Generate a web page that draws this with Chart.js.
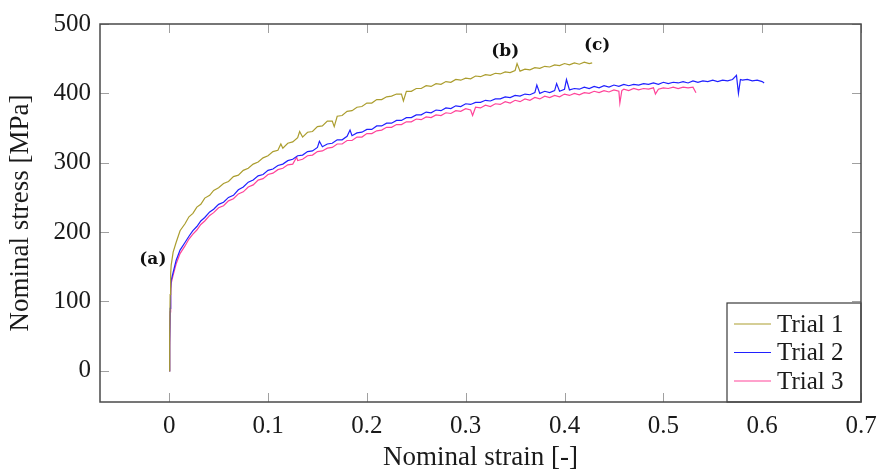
<!DOCTYPE html>
<html>
<head>
<meta charset="utf-8">
<script src="https://cdn.jsdelivr.net/npm/chart.js@4.4.1/dist/chart.umd.min.js"></script>
<style>
  html, body { margin: 0; padding: 0; background: #fff; }
</style>
</head>
<body>
<canvas id="chart" width="878" height="472"></canvas>
<script>
// series: [strain, stress in MPa]
const trialLabels = ['Trial 1', 'Trial 2', 'Trial 3'];
const trialColors = ['#ab9d2e', '#2020ff', '#ff4499'];

const trial1 = [[0,0],[0.0005,50],[0.001,110],[0.0015,140],[0.002,152],[0.004,171],[0.007,185],[0.011,202],[0.016,212],[0.02,222],
  [0.024,227],[0.028,236],[0.032,240],[0.036,249],[0.041,253],[0.045,260],[0.05,264],[0.055,270],[0.06,273],[0.065,280],
  [0.07,282],[0.075,289],[0.08,292],[0.085,298],[0.09,301],[0.095,307],[0.1,310],[0.105,316],[0.11,318],[0.113,327],
  [0.115,321],[0.12,328],[0.125,330],[0.13,336],[0.132,345],[0.135,337],[0.14,344],[0.145,345],[0.15,352],[0.155,353],
  [0.16,360],[0.165,360],[0.167,352],[0.17,367],[0.175,368],[0.18,374],[0.185,375],[0.19,380],[0.195,381],[0.2,386],
  [0.205,386],[0.21,391],[0.215,391],[0.22,395],[0.225,396],[0.23,399],[0.235,399],[0.237,389],[0.24,403],[0.245,403],
  [0.25,407],[0.255,407],[0.26,411],[0.265,410],[0.27,414],[0.275,413],[0.28,417],[0.285,416],[0.29,420],[0.295,419],
  [0.3,422],[0.305,421],[0.31,425],[0.315,424],[0.32,427],[0.325,426],[0.33,429],[0.335,428],[0.34,431],[0.345,430],
  [0.35,433],[0.352,443],[0.355,432],[0.36,435],[0.365,434],[0.37,437],[0.375,436],[0.38,439],[0.385,438],[0.39,441],
  [0.395,440],[0.4,443],[0.405,441],[0.41,444],[0.415,442],[0.42,445],[0.425,443],[0.428,444]];

const trial2 = [[0,0],[0.0005,40],[0.001,90],[0.0015,118],[0.002,130],[0.004,142],[0.007,159],[0.011,174],[0.016,185],[0.02,194],
  [0.024,202],[0.028,208],[0.032,216],[0.036,221],[0.041,229],[0.045,233],[0.05,240],[0.055,243],[0.06,250],[0.065,253],
  [0.07,261],[0.075,265],[0.08,272],[0.085,275],[0.09,281],[0.095,283],[0.1,289],[0.105,291],[0.11,296],[0.115,298],
  [0.12,303],[0.125,305],[0.13,310],[0.135,311],[0.14,316],[0.145,317],[0.15,322],[0.152,331],[0.155,323],[0.16,327],
  [0.165,328],[0.17,333],[0.175,333],[0.18,338],[0.183,347],[0.185,339],[0.19,343],[0.195,344],[0.2,348],[0.205,348],
  [0.21,353],[0.215,353],[0.22,357],[0.225,357],[0.23,361],[0.235,361],[0.24,365],[0.245,365],[0.25,369],[0.255,369],
  [0.26,373],[0.265,372],[0.27,376],[0.275,375],[0.28,379],[0.285,378],[0.29,382],[0.295,381],[0.3,385],[0.305,384],
  [0.31,387],[0.315,387],[0.32,390],[0.325,389],[0.33,392],[0.335,392],[0.34,395],[0.345,394],[0.35,397],[0.355,396],
  [0.36,399],[0.365,398],[0.37,401],[0.372,412],[0.375,400],[0.38,403],[0.385,401],[0.39,404],[0.392,414],[0.395,403],
  [0.4,406],[0.402,420],[0.405,405],[0.41,407],[0.415,406],[0.42,409],[0.425,407],[0.43,410],[0.435,408],[0.44,411],
  [0.445,409],[0.45,412],[0.455,410],[0.46,413],[0.465,411],[0.47,413],[0.475,412],[0.48,414],[0.485,413],[0.49,415],
  [0.495,413],[0.5,416],[0.505,414],[0.51,416],[0.515,415],[0.52,417],[0.525,415],[0.53,418],[0.535,416],[0.54,418],
  [0.545,417],[0.55,419],[0.555,417],[0.56,419],[0.565,418],[0.57,420],[0.574,426],[0.576,400],[0.578,420],[0.58,419],
  [0.585,420],[0.59,418],[0.595,419],[0.6,417],[0.602,415]];

const trial3 = [[0,0],[0.0005,35],[0.001,85],[0.0015,112],[0.002,126],[0.004,138],[0.007,154],[0.011,169],[0.016,180],[0.02,190],
  [0.024,197],[0.028,203],[0.032,211],[0.036,216],[0.041,224],[0.045,228],[0.05,235],[0.055,238],[0.06,245],[0.065,248],
  [0.07,255],[0.075,258],[0.08,265],[0.085,268],[0.09,275],[0.095,277],[0.1,283],[0.105,285],[0.11,290],[0.115,292],
  [0.12,297],[0.125,298],[0.129,308],[0.13,303],[0.135,305],[0.14,310],[0.145,311],[0.15,316],[0.155,317],[0.16,321],
  [0.165,322],[0.17,327],[0.175,327],[0.18,332],[0.185,332],[0.19,337],[0.195,337],[0.2,342],[0.205,342],[0.21,346],
  [0.215,347],[0.22,351],[0.225,351],[0.23,355],[0.235,355],[0.24,359],[0.245,359],[0.25,363],[0.255,362],[0.26,366],
  [0.265,365],[0.27,369],[0.275,368],[0.28,372],[0.285,371],[0.29,375],[0.295,374],[0.3,378],[0.305,376],[0.307,368],
  [0.31,380],[0.315,379],[0.32,383],[0.325,381],[0.33,385],[0.335,384],[0.34,388],[0.345,386],[0.35,390],[0.355,388],
  [0.36,392],[0.365,390],[0.37,394],[0.375,392],[0.38,396],[0.385,394],[0.39,397],[0.395,395],[0.4,399],[0.405,397],
  [0.41,400],[0.415,398],[0.42,401],[0.425,400],[0.43,403],[0.435,401],[0.44,404],[0.445,402],[0.45,405],[0.455,403],
  [0.456,386],[0.458,404],[0.46,406],[0.465,404],[0.47,407],[0.475,405],[0.48,407],[0.485,406],[0.49,408],[0.492,399],
  [0.495,406],[0.5,408],[0.505,407],[0.51,409],[0.515,407],[0.52,409],[0.525,408],[0.53,409],[0.533,401]];

const xTicks = [0, 0.1, 0.2, 0.3, 0.4, 0.5, 0.6, 0.7];
const yTicks = [0, 100, 200, 300, 400, 500];
const xTitle = 'Nominal strain [-]';
const yTitle = 'Nominal stress [MPa]';

// point labels, anchored in data coordinates
const noteText = ['(a)', '(b)', '(c)'];
const noteStrain = [-0.0165, 0.34, 0.433];
const noteStress = [161, 460, 469];

const serif = '"Liberation Serif", "Times New Roman", serif';
const textColor = '#1a1a1a';

// frame with inward ticks, boxed legend and the (a)(b)(c) marks
const framePlugin = {
    id: 'frame',
    afterDatasetsDraw(chart) {
        const { ctx, chartArea: a, scales: { x, y } } = chart;
        ctx.save();

        ctx.strokeStyle = '#a0a0a0';
        ctx.lineWidth = 1;
        ctx.beginPath();
        xTicks.forEach(v => {
            const px = Math.round(x.getPixelForValue(v)) + 0.5;
            ctx.moveTo(px, a.bottom); ctx.lineTo(px, a.bottom - 9);
            ctx.moveTo(px, a.top); ctx.lineTo(px, a.top + 9);
        });
        yTicks.forEach(v => {
            const py = Math.round(y.getPixelForValue(v)) + 0.5;
            ctx.moveTo(a.left, py); ctx.lineTo(a.left + 9, py);
            ctx.moveTo(a.right, py); ctx.lineTo(a.right - 9, py);
        });
        ctx.stroke();

        // legend box in the lower right corner
        const lw = 134, lh = 99;
        const lx = a.right - lw, ly = a.bottom - lh;
        ctx.fillStyle = '#fff';
        ctx.fillRect(lx, ly, lw, lh);
        ctx.strokeStyle = '#3a3a3a';
        ctx.lineWidth = 1.2;
        ctx.strokeRect(lx, ly, lw, lh);
        ctx.font = '25px ' + serif;
        ctx.textBaseline = 'middle';
        ctx.textAlign = 'left';
        chart.data.datasets.forEach((ds, i) => {
            const ry = ly + 21 + i * 28.5;
            ctx.strokeStyle = ds.borderColor;
            ctx.lineWidth = 1.2;
            ctx.beginPath();
            ctx.moveTo(lx + 7, ry); ctx.lineTo(lx + 44, ry);
            ctx.stroke();
            ctx.fillStyle = textColor;
            ctx.fillText(ds.label, lx + 50, ry + 1);
        });

        // axis frame
        ctx.strokeStyle = '#4a4a4a';
        ctx.lineWidth = 1.5;
        ctx.strokeRect(a.left, a.top, a.right - a.left, a.bottom - a.top);

        // point labels
        ctx.font = 'bold 17px "DejaVu Serif", serif';
        ctx.fillStyle = '#111';
        ctx.textAlign = 'center';
        noteText.forEach((t, i) => {
            ctx.fillText(t, x.getPixelForValue(noteStrain[i]), y.getPixelForValue(noteStress[i]));
        });
        ctx.restore();
    }
};

new Chart(document.getElementById('chart'), {
    type: 'line',
    data: {
        datasets: [trial1, trial2, trial3].map((d, i) => ({
            label: trialLabels[i],
            data: d.map(p => ({ x: p[0], y: p[1] })),
            borderColor: trialColors[i],
            borderWidth: 1.2,
            pointRadius: 0,
            tension: 0,
            fill: false
        }))
    },
    options: {
        responsive: false,
        animation: false,
        devicePixelRatio: 1,
        layout: { padding: { top: 22, right: 17, bottom: 0, left: 0 } },
        plugins: { legend: { display: false }, tooltip: { enabled: false } },
        scales: {
            x: {
                type: 'linear',
                min: -0.07,
                max: 0.7,
                grid: { display: false, drawTicks: false },
                border: { display: false },
                afterBuildTicks: s => { s.ticks = xTicks.map(v => ({ value: v })); },
                afterFit: s => { s.height = 70; s.paddingLeft = 0; s.paddingRight = 0; },
                ticks: {
                    padding: 9,
                    color: textColor,
                    font: { family: serif, size: 25 },
                    maxRotation: 0,
                    callback: v => String(v)
                },
                title: {
                    display: true,
                    text: xTitle,
                    color: textColor,
                    font: { family: serif, size: 27, lineHeight: 1 },
                    padding: { top: 0, bottom: 1 }
                }
            },
            y: {
                min: -45,
                max: 500,
                grid: { display: false, drawTicks: false },
                border: { display: false },
                afterBuildTicks: s => { s.ticks = yTicks.map(v => ({ value: v })); },
                afterFit: s => { s.width = 100; },
                ticks: {
                    padding: 9,
                    color: textColor,
                    font: { family: serif, size: 25 },
                    callback: v => String(v)
                },
                title: {
                    display: true,
                    text: yTitle,
                    color: textColor,
                    font: { family: serif, size: 27, lineHeight: 1 },
                    padding: { top: 7, bottom: 0 }
                }
            }
        }
    },
    plugins: [framePlugin]
});
</script>
</body>
</html>
